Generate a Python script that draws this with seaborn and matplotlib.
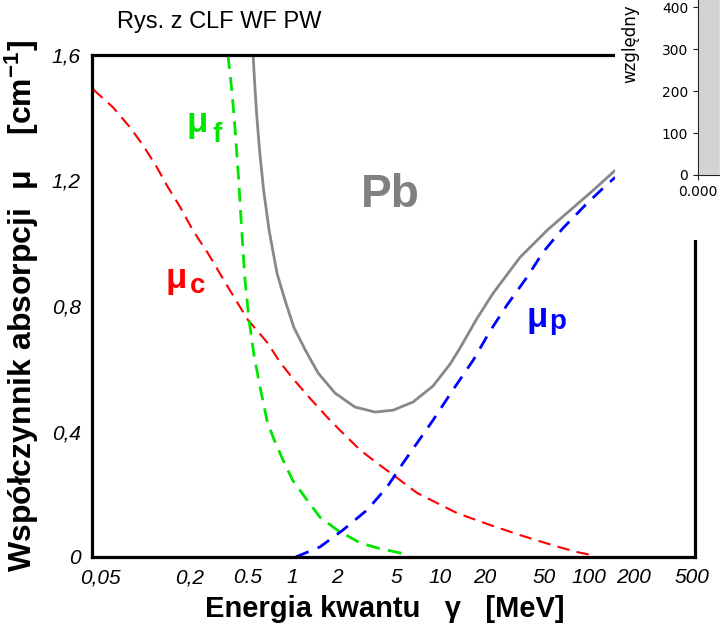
import matplotlib
matplotlib.use('Agg')
import matplotlib.pyplot as plt
import seaborn as sns
from matplotlib.patches import Rectangle
from matplotlib.ticker import NullLocator

# --- dane: energia [MeV], mu [cm^-1] ---
# efekt Comptona (mu_c)
E_c = [0.045, 0.0612, 0.0798, 0.0977, 0.121, 0.144, 0.174, 0.212, 0.268, 0.366, 0.5, 0.671,
       0.822, 1.0, 1.31, 1.71, 2.09, 2.86, 3.73, 5.09, 6.94, 9.46, 12.9, 21.6, 34.4, 50.8,
       67.3, 85, 105]
mu_c = [1.49, 1.433, 1.369, 1.312, 1.242, 1.178, 1.115, 1.041, 0.968, 0.860, 0.755, 0.685,
        0.621, 0.570, 0.506, 0.446, 0.404, 0.341, 0.299, 0.252, 0.204, 0.172, 0.140, 0.102,
        0.070, 0.045, 0.028, 0.015, 0.006]

# efekt fotoelektryczny (mu_f)
E_f = [0.366, 0.390, 0.408, 0.431, 0.459, 0.477, 0.508, 0.549, 0.603, 0.671, 0.738, 0.861,
       1.0, 1.25, 1.53, 2.0, 2.86, 3.73, 5.32, 6.2]
mu_f = [1.60, 1.478, 1.369, 1.210, 1.0, 0.882, 0.755, 0.643, 0.541, 0.436, 0.382, 0.309,
        0.245, 0.182, 0.127, 0.086, 0.045, 0.029, 0.013, 0.006]

# tworzenie par (mu_p)
E_p = [1.05, 1.53, 2.19, 3.19, 4.35, 5.57, 6.93, 8.89, 12.1, 16.6, 21.6, 28.1, 38.4, 49.2,
       67.1, 97.6, 125, 151]
mu_p = [0.0, 0.032, 0.086, 0.150, 0.223, 0.299, 0.363, 0.436, 0.532, 0.627, 0.720, 0.803,
        0.892, 0.971, 1.048, 1.127, 1.175, 1.210]

# calkowity wspolczynnik dla Pb
E_pb = [0.541, 0.553, 0.571, 0.598, 0.637, 0.694, 0.785, 0.889, 1.02, 1.22, 1.49, 1.94,
        2.64, 3.61, 4.78, 6.52, 8.89, 11.6, 13.5, 17.6, 22.6, 34.4, 52.4, 75.0, 107, 151]
mu_pb = [1.60, 1.519, 1.414, 1.296, 1.169, 1.041, 0.904, 0.818, 0.732, 0.659, 0.586, 0.522,
         0.478, 0.462, 0.468, 0.494, 0.545, 0.615, 0.665, 0.760, 0.840, 0.955, 1.041, 1.105,
         1.168, 1.232]

x_ticks = [0.05, 0.2, 0.5, 1, 2, 5, 10, 20, 50, 100, 200, 500]
x_labels = ['0,05', '0,2', '0.5', '1', '2', '5', '10', '20', '50', '100', '200', '500']
y_ticks = [0, 0.4, 0.8, 1.2, 1.6]
y_labels = ['0', '0,4', '0,8', '1,2', '1,6']

# fragment sasiedniego wykresu (prawy gorny rog)
inset_ticks = [0, 100, 200, 300, 400]
inset_bar = [450]

# --- styl ---
sns.set_style('white')
plt.rcParams['font.family'] = ['Liberation Sans', 'DejaVu Sans']
plt.rcParams['text.color'] = 'black'
plt.rcParams['axes.labelcolor'] = 'black'
plt.rcParams['xtick.color'] = 'black'
plt.rcParams['ytick.color'] = 'black'
plt.rcParams['mathtext.fontset'] = 'custom'
plt.rcParams['mathtext.rm'] = 'Liberation Sans:bold'
plt.rcParams['mathtext.it'] = 'Liberation Sans:bold'
plt.rcParams['mathtext.bf'] = 'Liberation Sans:bold'

fig = plt.figure(figsize=(7.2, 6.3), dpi=100)
ax = fig.add_axes([92 / 720, 1 - 557 / 630, 603 / 720, 502 / 630])

sns.lineplot(x=E_c, y=mu_c, ax=ax, color='#ff0000', lw=1.5, linestyle=(0, (6, 3.5)))
sns.lineplot(x=E_f, y=mu_f, ax=ax, color='#00e600', lw=2, linestyle=(0, (5, 3)))
sns.lineplot(x=E_p, y=mu_p, ax=ax, color='#0000ff', lw=2, linestyle=(0, (5, 3.5)))
sns.lineplot(x=E_pb, y=mu_pb, ax=ax, color='#888888', lw=2)

ax.set_xscale('log')
ax.set_xlim(0.0441, 524)
ax.set_ylim(0, 1.6)
ax.set_xticks(x_ticks, x_labels, fontstyle='italic', fontsize=15)
ax.set_yticks(y_ticks, y_labels, fontstyle='italic', fontsize=15)
ax.xaxis.set_minor_locator(NullLocator())
ax.tick_params(length=0, pad=8)
for s in ax.spines.values():
    s.set_color('black')
    s.set_linewidth(2.3)

ax.set_xlabel('Energia kwantu   γ   [MeV]', fontsize=21, fontweight='bold')
ax.xaxis.set_label_coords(0.486, -0.076)
ax.set_ylabel('Współczynnik absorpcji  μ    [cm$^{-1}$]', fontsize=23, fontweight='bold')
ax.yaxis.set_label_coords(-0.085, 0.5)


# opisy krzywych
def mu_label(x, y, sub, xs, ys, color):
    ax.text(x, y, 'μ', transform=ax.transAxes, color=color, fontsize=25,
            fontweight='bold', va='baseline')
    ax.text(xs, ys, sub, transform=ax.transAxes, color=color, fontsize=20,
            fontweight='bold', va='baseline')


mu_label(0.157, 0.847, 'f', 0.200, 0.827, '#00e600')
mu_label(0.122, 0.536, 'c', 0.162, 0.526, '#ff0000')
mu_label(0.721, 0.458, 'p', 0.759, 0.454, '#0000ff')
ax.text(0.494, 0.721, 'Pb', transform=ax.transAxes, color='#808080', fontsize=33,
        fontweight='bold', ha='center', va='center')

fig.text(219 / 720, 1 - 22 / 630, 'Rys. z CLF WF PW', ha='center', va='center', fontsize=17)

# biale tlo pod wstawka
fig.add_artist(Rectangle((615 / 720, 1 - 240 / 630), 105 / 720, 240 / 630,
                         transform=fig.transFigure, facecolor='white', edgecolor='none',
                         zorder=2))

ax2 = fig.add_axes([698 / 720, 1 - 175 / 630, 22 / 720, 175 / 630], zorder=3)
ax2.bar([0.0], inset_bar, width=1.0, align='edge', color='lightgray')
ax2.set_xlim(0, 1)
ax2.set_ylim(0, 417)
ax2.set_xticks([0.0], ['0.000'], family='DejaVu Sans', fontsize=10)
ax2.set_yticks(inset_ticks, [str(t) for t in inset_ticks], family='DejaVu Sans', fontsize=10)
ax2.tick_params(left=True, bottom=True, length=3.5, width=0.8, color='#222222')
ax2.spines['top'].set_visible(False)
ax2.spines['right'].set_visible(False)
for s in ['left', 'bottom']:
    ax2.spines[s].set_color('#222222')
    ax2.spines[s].set_linewidth(0.8)
fig.text(630 / 720, 1 - 44 / 630, 'względny', rotation=90, ha='center', va='center',
         fontsize=12, family='DejaVu Sans', zorder=4)

fig.savefig('out.png', dpi=100)
